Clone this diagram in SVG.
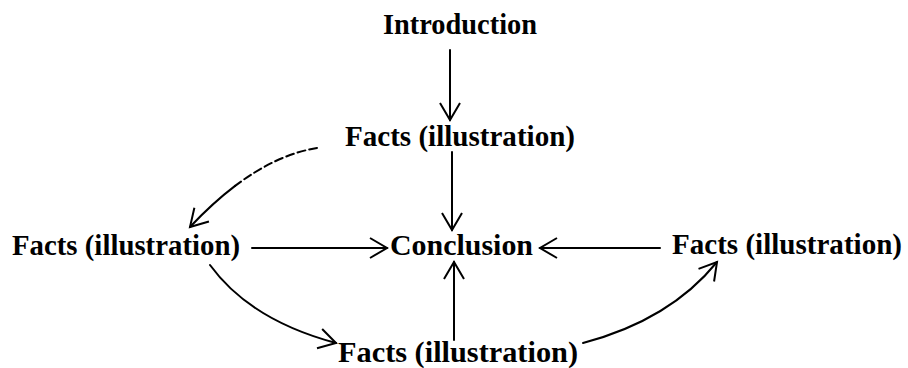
<svg xmlns="http://www.w3.org/2000/svg" width="908" height="368" viewBox="0 0 908 368">
  <style>
    .lbl { font-family: "Liberation Serif", "Times New Roman", serif; font-weight: bold; font-size: 30px; fill: #000; }
    .edge { fill: none; stroke: #000; stroke-width: 2; stroke-linecap: round; }
    .dash { stroke-dasharray: 8 4; }
  </style>
  <defs>
    <marker id="vee" markerUnits="userSpaceOnUse" markerWidth="24" markerHeight="24" refX="18" refY="10" orient="auto" overflow="visible">
      <path d="M1,0 L18,10 L1,20" fill="none" stroke="#000" stroke-width="2" stroke-linejoin="miter"/>
    </marker>
  </defs>
  <rect width="908" height="368" fill="#fff"/>

  <g id="connectors">
    <path class="edge" d="M450,50 L450,120" marker-end="url(#vee)"/>
    <path class="edge" d="M452,152 L452,230" marker-end="url(#vee)"/>
    <path class="edge" d="M454,340 L454,262" marker-end="url(#vee)"/>
    <path class="edge" d="M252,248 L387,248" marker-end="url(#vee)"/>
    <path class="edge" d="M660,248 L540,248" marker-end="url(#vee)"/>
    <path class="edge dash" d="M317,148 Q276.7,154.5 235.1,185.9"/>
    <path class="edge" d="M235.1,185.9 Q212.75,202.85 190,227" marker-end="url(#vee)"/>
    <path class="edge" d="M210,265 Q250,320 336,343" marker-end="url(#vee)"/>
    <path class="edge" d="M583,343 Q670,320 717,262" marker-end="url(#vee)"/>
  </g>

  <g id="introduction">
    <text class="lbl" x="383" y="34" textLength="154" lengthAdjust="spacingAndGlyphs">Introduction</text>
  </g>
  <g id="facts-top">
    <text class="lbl" x="345" y="146" textLength="230" lengthAdjust="spacingAndGlyphs">Facts (illustration)</text>
  </g>
  <g id="facts-left">
    <text class="lbl" x="12" y="255" textLength="228" lengthAdjust="spacingAndGlyphs">Facts (illustration)</text>
  </g>
  <g id="conclusion">
    <text class="lbl" x="390" y="255" textLength="143" lengthAdjust="spacingAndGlyphs">Conclusion</text>
  </g>
  <g id="facts-right">
    <text class="lbl" x="672" y="254" textLength="230" lengthAdjust="spacingAndGlyphs">Facts (illustration)</text>
  </g>
  <g id="facts-bottom">
    <text class="lbl" x="338" y="362" textLength="240" lengthAdjust="spacingAndGlyphs">Facts (illustration)</text>
  </g>
</svg>
